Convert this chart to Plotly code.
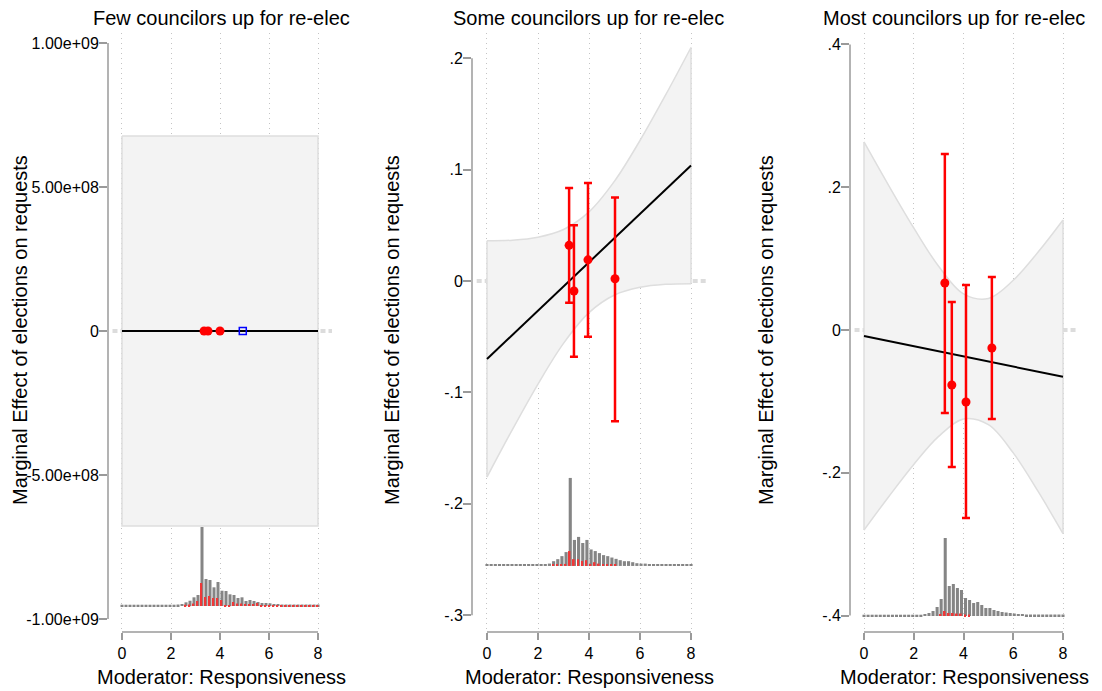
import numpy as np
import plotly.graph_objects as go

W, H = 1102, 691

# ---------------- data ----------------
titles = ["Few councilors up for re-elec", "Some councilors up for re-elec", "Most councilors up for re-elec"]
x_title = "Moderator: Responsiveness"
y_title = "Marginal Effect of elections on requests"
x_tick_vals = [0, 2, 4, 6, 8]
x_tick_text = ["0", "2", "4", "6", "8"]

# panel 1
p1_ytick_vals = [-1e9, -5e8, 0, 5e8, 1e9]
p1_ytick_text = ["-1.00e+09", "-5.00e+08", "0", "5.00e+08", "1.00e+09"]
p1_x = [0, 8]
p1_me = [0, 0]
p1_ci_lo = [-6.77e8, -6.77e8]
p1_ci_hi = [6.77e8, 6.77e8]
p1_bin_x = [3.35, 3.51, 4.0]
p1_bin_y = [0, 0, 0]
p1_blue_x = [4.93]
p1_blue_y = [0]
p1_hist = [1.3] * 14 + [1.5, 2, 3.7, 5.3, 8.7, 11, 79, 27, 26, 18.7, 24, 15.3, 15, 11.7, 11, 8, 8.7,
                        5, 6, 5, 4, 3, 3, 2.7, 2, 2] + [1.5] * 10
p1_hist_t = [0] * 16 + [1.3, 1.5, 2.5, 5, 23, 9, 10, 8, 8, 6, 0.5, 0.5, 4, 2.5, 2.5, 2, 2, 2, 3] + [1] * 15

# panel 2
p2_ytick_vals = [-0.3, -0.2, -0.1, 0, 0.1, 0.2]
p2_ytick_text = ["-.3", "-.2", "-.1", "0", ".1", ".2"]
p2_x = [0, 1, 2, 3, 4, 5, 6, 7, 8]
p2_me = [-0.070, -0.0483, -0.0266, -0.0049, 0.0168, 0.0385, 0.0602, 0.0819, 0.1036]
p2_ci_hi = [0.036, 0.0366, 0.0393, 0.0462, 0.062, 0.0896, 0.1261, 0.1668, 0.2096]
p2_ci_lo = [-0.176, -0.1332, -0.0925, -0.056, -0.0284, -0.0126, -0.0057, -0.003, -0.0024]
p2_bin_x = [3.22, 3.41, 3.96, 5.02]
p2_bin_y = [0.032, -0.009, 0.019, 0.002]
p2_bin_hi = [0.0835, 0.050, 0.088, 0.075]
p2_bin_lo = [-0.0195, -0.068, -0.050, -0.126]
p2_hist = [1.3] * 15 + [2.3, 4.7, 6.7, 9.7, 13.7, 87, 25.7, 28.7, 22.7, 25.7, 16.3, 14.7, 12.7, 10.7,
                        9.7, 8.3, 7, 5.7, 4.7, 4.7, 3.7, 2.7, 2.3, 2.3, 1.7, 1.7] + [1.3] * 9
p2_hist_t = [0] * 16 + [1.3, 1.3, 1.3, 2, 14.7, 6.7, 6.7, 5, 5.7, 1.3, 3.7, 2.3, 1.3, 1.3, 1.3, 1.3] + [0] * 18

# panel 3
p3_ytick_vals = [-0.4, -0.2, 0, 0.2, 0.4]
p3_ytick_text = ["-.4", "-.2", "0", ".2", ".4"]
p3_x = [0, 1, 2, 3, 4, 5, 6, 7, 8]
p3_me = [-0.0084, -0.0156, -0.0227, -0.0299, -0.037, -0.0442, -0.0513, -0.0585, -0.0656]
p3_ci_hi = [0.2635, 0.202, 0.143, 0.0893, 0.0506, 0.0441, 0.0696, 0.1092, 0.1541]
p3_ci_lo = [-0.2803, -0.2332, -0.1884, -0.1491, -0.1246, -0.1325, -0.1722, -0.2262, -0.2853]
p3_bin_x = [3.25, 3.53, 4.10, 5.14]
p3_bin_y = [0.0658, -0.0771, -0.1009, -0.0252]
p3_bin_hi = [0.2466, 0.0392, 0.063, 0.0743]
p3_bin_lo = [-0.1163, -0.192, -0.2634, -0.1247]
p3_hist = [1.3] * 15 + [2, 3, 5, 9, 17, 78, 30, 32, 28, 26, 18, 16, 13, 14, 11, 8, 8, 6, 5, 4, 3.5, 3,
                        2.5, 2, 2] + [1.5] * 10
p3_hist_t = [0] * 19 + [2, 5, 3, 3, 2.5, 2.5, 1.5, 1.5] + [0] * 23

# ---------------- layout geometry ----------------
panels = [
    dict(px=(108, 332), xr=[-0.571, 8.571], yr=[-1.0451e9, 1.0347e9], yt=(p1_ytick_vals, p1_ytick_text),
         hist=p1_hist, hist_t=p1_hist_t, hbase=-9.549e8, hpeak=2.743e8,
         title_cx=221, xt_cx=221, yt_cx=20),
    dict(px=(472, 706), xr=[-0.588, 8.588], yr=[-0.3151, 0.2226], yt=(p2_ytick_vals, p2_ytick_text),
         hist=p2_hist, hist_t=p2_hist_t, hbase=-0.2558, hpeak=0.079,
         title_cx=588, xt_cx=589, yt_cx=392),
    dict(px=(850, 1077), xr=[-0.563, 8.563], yr=[-0.4231, 0.4161], yt=(p3_ytick_vals, p3_ytick_text),
         hist=p3_hist, hist_t=p3_hist_t, hbase=-0.4007, hpeak=0.1093,
         title_cx=954, xt_cx=964, yt_cx=766),
]
yd = [1 - 632 / H, 1 - 33 / H]

FONT = "Liberation Sans, Arial, sans-serif"
GRAY_AX = "#9a9a9a"
BAND_FILL = "#f3f3f3"
BAND_LINE = "#dedede"

fig = go.Figure()
nb = len(p1_hist)
centers = np.linspace(0, 8, nb)
bw = 8 / (nb - 1)

shapes = []
annotations = []

for i, P in enumerate(panels):
    k = "" if i == 0 else str(i + 1)
    xa, ya = "x" + k, "y" + k
    # zero reference line (thick dashed)
    shapes.append(dict(type="line", xref=f"{xa} domain", yref=ya, x0=0.02, x1=1, y0=0, y1=0,
                       line=dict(color="#dcdcdc", width=4, dash="5px,3px"), layer="below"))
    # axis lines
    yv = P["yt"][0]
    shapes.append(dict(type="line", xref=f"{xa} domain", yref=ya, x0=0, x1=0, y0=min(yv), y1=max(yv),
                       line=dict(color=GRAY_AX, width=1.5)))
    shapes.append(dict(type="line", xref=xa, yref=f"{ya} domain", x0=0, x1=8, y0=0, y1=0,
                       line=dict(color=GRAY_AX, width=1.5)))

    # histogram
    scale = P["hpeak"] / max(P["hist"])
    hg = [v * scale for v in P["hist"]]
    ht = [v * scale for v in P["hist_t"]]
    fig.add_trace(go.Bar(x=centers, y=hg, base=P["hbase"], width=bw * 0.75, offset=-bw * 0.375,
                         marker=dict(color="#858585", line=dict(width=0)), xaxis=xa, yaxis=ya,
                         showlegend=False, hoverinfo="skip"))
    fig.add_trace(go.Bar(x=centers, y=ht, base=P["hbase"], width=bw * 0.42, offset=-bw * 0.375,
                         marker=dict(color="rgb(240,55,55)", line=dict(width=0)), xaxis=xa, yaxis=ya,
                         showlegend=False, hoverinfo="skip"))

    # annotations
    annotations.append(dict(text=titles[i], x=P["title_cx"] / W, y=1 - 18 / H, xref="paper", yref="paper",
                            xanchor="center", yanchor="middle", showarrow=False,
                            font=dict(size=20, color="black", family=FONT)))
    annotations.append(dict(text=x_title, x=P["xt_cx"] / W, y=1 - 677 / H, xref="paper", yref="paper",
                            xanchor="center", yanchor="middle", showarrow=False,
                            font=dict(size=20, color="black", family=FONT)))
    annotations.append(dict(text=y_title, x=P["yt_cx"] / W, y=1 - 330 / H, xref="paper", yref="paper",
                            xanchor="center", yanchor="middle", showarrow=False, textangle=-90,
                            font=dict(size=20, color="black", family=FONT)))

# ---- panel 1 content ----
fig.add_trace(go.Scatter(x=p1_x + p1_x[::-1] + [p1_x[0]], y=p1_ci_hi + p1_ci_lo[::-1] + [p1_ci_hi[0]],
                         fill="toself", fillcolor=BAND_FILL, line=dict(color=BAND_LINE, width=1.5),
                         mode="lines", xaxis="x", yaxis="y", showlegend=False, hoverinfo="skip"))
fig.add_trace(go.Scatter(x=p1_x, y=p1_me, mode="lines", line=dict(color="black", width=2),
                         xaxis="x", yaxis="y", showlegend=False))
fig.add_trace(go.Scatter(x=p1_bin_x, y=p1_bin_y, mode="markers", marker=dict(color="red", size=9),
                         xaxis="x", yaxis="y", showlegend=False))
fig.add_trace(go.Scatter(x=p1_blue_x, y=p1_blue_y, mode="markers",
                         marker=dict(symbol="square-open", color="blue", size=7, line=dict(width=1.5)),
                         xaxis="x", yaxis="y", showlegend=False))

# ---- panels 2, 3 content ----
for k, (bx, me, lo, hi, px_, py_, plo, phi) in zip(
        ["2", "3"],
        [(p2_x, p2_me, p2_ci_lo, p2_ci_hi, p2_bin_x, p2_bin_y, p2_bin_lo, p2_bin_hi),
         (p3_x, p3_me, p3_ci_lo, p3_ci_hi, p3_bin_x, p3_bin_y, p3_bin_lo, p3_bin_hi)]):
    xa, ya = "x" + k, "y" + k
    fig.add_trace(go.Scatter(x=bx, y=lo, mode="lines", line=dict(color=BAND_LINE, width=1.5, shape="spline"),
                             xaxis=xa, yaxis=ya, showlegend=False, hoverinfo="skip"))
    fig.add_trace(go.Scatter(x=bx, y=hi, mode="lines", fill="tonexty", fillcolor=BAND_FILL,
                             line=dict(color=BAND_LINE, width=1.5, shape="spline"),
                             xaxis=xa, yaxis=ya, showlegend=False, hoverinfo="skip"))
    for j in (0, -1):
        fig.add_trace(go.Scatter(x=[bx[j], bx[j]], y=[lo[j], hi[j]], mode="lines",
                                 line=dict(color=BAND_LINE, width=1.5), xaxis=xa, yaxis=ya,
                                 showlegend=False, hoverinfo="skip"))
    fig.add_trace(go.Scatter(x=[bx[0], bx[-1]], y=[me[0], me[-1]], mode="lines",
                             line=dict(color="black", width=2), xaxis=xa, yaxis=ya, showlegend=False))
    fig.add_trace(go.Scatter(x=px_, y=py_, mode="markers",
                             marker=dict(color="red", size=9),
                             error_y=dict(type="data", symmetric=False,
                                          array=[h - y for h, y in zip(phi, py_)],
                                          arrayminus=[y - l for l, y in zip(plo, py_)],
                                          color="red", thickness=2.5, width=4),
                             xaxis=xa, yaxis=ya, showlegend=False))

layout = dict(
    width=W, height=H, margin=dict(l=0, r=0, t=0, b=0),
    paper_bgcolor="white", plot_bgcolor="white",
    barmode="overlay", showlegend=False,
    font=dict(family=FONT, color="black"),
    shapes=shapes, annotations=annotations,
)
for i, P in enumerate(panels):
    k = "" if i == 0 else str(i + 1)
    layout["xaxis" + k] = dict(domain=[P["px"][0] / W, P["px"][1] / W], range=P["xr"], anchor="y" + k,
                               tickvals=x_tick_vals, ticktext=x_tick_text, ticks="outside", ticklen=7,
                               tickwidth=1.5, tickcolor=GRAY_AX, showline=False, zeroline=False,
                               showgrid=True, gridcolor="#c4c4c4", gridwidth=1, griddash="1px,4px",
                               tickfont=dict(size=16, color="black", family=FONT), fixedrange=True)
    layout["yaxis" + k] = dict(domain=yd, range=P["yr"], anchor="x" + k,
                               tickvals=P["yt"][0], ticktext=P["yt"][1], ticks="outside", ticklen=8,
                               tickwidth=1.5, tickcolor=GRAY_AX, showline=False, zeroline=False,
                               showgrid=False, ticklabelstandoff=-3,
                               tickfont=dict(size=16, color="black", family=FONT),
                               fixedrange=True)
fig.update_layout(**layout)
fig.write_html("out.html")
